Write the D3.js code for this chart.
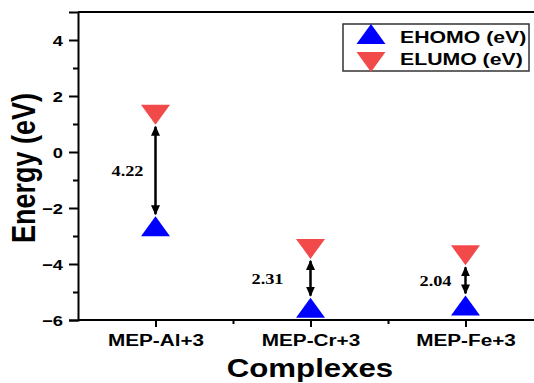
<!DOCTYPE html>
<html>
<head>
<meta charset="utf-8">
<script src="https://cdn.jsdelivr.net/npm/d3@7"></script>
<style>
  body { margin: 0; background: #fff; }
  text { font-family: "Liberation Sans", Arial, sans-serif; font-weight: bold; }
</style>
</head>
<body>
<div id="chart"></div>
<script>
// data
var categories = ["MEP-Al+3", "MEP-Cr+3", "MEP-Fe+3"];
var homo = [-2.65, -5.56, -5.48];
var lumo = [1.33, -3.46, -3.69];
var gapLabels = ["4.22", "2.31", "2.04"];
var yTicks = [-6, -4, -2, 0, 2, 4];
var yMinor = [-5, -3, -1, 1, 3];

var svgWidth = 534;
var svgHeight = 383;
var sx = 1.22; // the picture is stretched sideways

var svg = d3.select("#chart")
  .append("svg")
  .attr("width", svgWidth)
  .attr("height", svgHeight);

var xScale = d3.scaleLinear().domain([0.5, 3.5]).range([78, 543]);
var yScale = d3.scaleLinear().domain([-6, 5]).range([320, 12]);

// arrow head
svg.append("defs").append("marker")
  .attr("id", "head")
  .attr("markerUnits", "userSpaceOnUse")
  .attr("viewBox", "0 0 10 10")
  .attr("refX", 9).attr("refY", 5)
  .attr("markerWidth", 10).attr("markerHeight", 10)
  .attr("orient", "auto-start-reverse")
  .append("path")
  .attr("d", "M0,0.5 L10,5 L0,9.5 z")
  .attr("fill", "#000");

function stretchText(sel) {
  sel.each(function() {
    var t = d3.select(this);
    var x = +t.attr("x") || 0;
    var y = +t.attr("y") || 0;
    t.attr("x", 0).attr("y", 0)
      .attr("transform", "translate(" + x + "," + y + ") scale(" + sx + ",1)");
  });
}

// frame: top line
svg.append("line")
  .attr("x1", 78).attr("x2", svgWidth)
  .attr("y1", yScale(5)).attr("y2", yScale(5))
  .attr("stroke", "#000").attr("stroke-width", 2);

// y axis
var yAxis = svg.append("g")
  .attr("transform", "translate(78,0)")
  .call(d3.axisLeft(yScale).tickValues(yTicks).tickSize(9).tickPadding(6).tickFormat(d3.format("d")));
yAxis.select(".domain").attr("stroke-width", 2);
yAxis.selectAll(".tick line").attr("stroke-width", 2);
yAxis.selectAll(".tick text")
  .style("font-size", "15px").attr("fill", "#000");
stretchText(yAxis.selectAll(".tick text"));
yAxis.selectAll(".tick text").attr("dy", "0.36em");

svg.append("g")
  .attr("transform", "translate(78,0)")
  .call(d3.axisLeft(yScale).tickValues(yMinor).tickSize(5).tickFormat(""))
  .call(g => g.select(".domain").remove())
  .selectAll(".tick line").attr("stroke-width", 2);

// x axis
var xAxis = svg.append("g")
  .attr("transform", "translate(0,320)")
  .call(d3.axisBottom(xScale).tickValues([1, 2, 3]).tickSize(7).tickPadding(7)
    .tickFormat(d => categories[d - 1]));
xAxis.select(".domain").attr("d", "M78,0H" + svgWidth).attr("stroke-width", 2);
xAxis.selectAll(".tick line").attr("stroke-width", 2);
xAxis.selectAll(".tick text").style("font-size", "17px").attr("fill", "#000");
stretchText(xAxis.selectAll(".tick text"));

svg.append("g")
  .attr("transform", "translate(0,320)")
  .call(d3.axisBottom(xScale).tickValues([1.5, 2.5]).tickSize(4).tickFormat(""))
  .call(g => g.select(".domain").remove())
  .selectAll(".tick line").attr("stroke-width", 2);

// axis titles
svg.append("text")
  .attr("transform", "translate(35,168) scale(" + sx + ",1) rotate(-90)")
  .attr("text-anchor", "middle")
  .style("font-size", "27px")
  .text("Energy (eV)");

svg.append("text")
  .attr("transform", "translate(310,377) scale(1.2,1)")
  .attr("text-anchor", "middle")
  .style("font-size", "26px")
  .text("Complexes");

// markers
function triangle(up) {
  var w = 14.5, h = 10;
  return up ? "M" + (-w) + "," + h + "L0," + (-h) + "L" + w + "," + h + "Z"
            : "M" + (-w) + "," + (-h) + "L0," + h + "L" + w + "," + (-h) + "Z";
}

var idx = d3.range(categories.length);

// gap arrows
svg.selectAll(".gap")
  .data(idx)
  .enter()
  .append("line")
  .attr("class", "gap")
  .attr("x1", i => xScale(i + 1))
  .attr("x2", i => xScale(i + 1))
  .attr("y1", i => yScale(lumo[i]) + 12)
  .attr("y2", i => yScale(homo[i]) - 12)
  .attr("stroke", "#000")
  .attr("stroke-width", 2.5)
  .attr("marker-start", "url(#head)")
  .attr("marker-end", "url(#head)");

svg.selectAll(".homo")
  .data(idx)
  .enter()
  .append("path")
  .attr("class", "homo")
  .attr("transform", i => "translate(" + xScale(i + 1) + "," + yScale(homo[i]) + ")")
  .attr("d", triangle(true))
  .attr("fill", "#0000ff");

svg.selectAll(".lumo")
  .data(idx)
  .enter()
  .append("path")
  .attr("class", "lumo")
  .attr("transform", i => "translate(" + xScale(i + 1) + "," + yScale(lumo[i]) + ")")
  .attr("d", triangle(false))
  .attr("fill", "#f24a4a");

// gap labels
var labelDx = [-12, -27, -14];
svg.selectAll(".gaplabel")
  .data(idx)
  .enter()
  .append("text")
  .attr("class", "gaplabel")
  .attr("transform", i => {
    var mid = (yScale(lumo[i]) + yScale(homo[i])) / 2;
    return "translate(" + (xScale(i + 1) + labelDx[i]) + "," + (mid + 6) + ") scale(" + sx + ",1)";
  })
  .attr("text-anchor", "end")
  .style("font-family", "'Liberation Serif', 'Times New Roman', serif")
  .style("font-size", "15px")
  .text(i => gapLabels[i]);

// legend
var legend = svg.append("g");
legend.append("rect")
  .attr("x", 343).attr("y", 24)
  .attr("width", 186).attr("height", 47)
  .attr("fill", "#fff")
  .attr("stroke", "#333")
  .attr("stroke-width", 1.5);
legend.append("path")
  .attr("transform", "translate(371,34)")
  .attr("d", triangle(true))
  .attr("fill", "#0000ff");
legend.append("path")
  .attr("transform", "translate(371,62)")
  .attr("d", triangle(false))
  .attr("fill", "#f24a4a");
legend.append("text")
  .attr("transform", "translate(400,43) scale(1.25,1)")
  .style("font-size", "17px")
  .text("EHOMO (eV)");
legend.append("text")
  .attr("transform", "translate(400,65) scale(1.25,1)")
  .style("font-size", "17px")
  .text("ELUMO (eV)");
</script>
</body>
</html>
